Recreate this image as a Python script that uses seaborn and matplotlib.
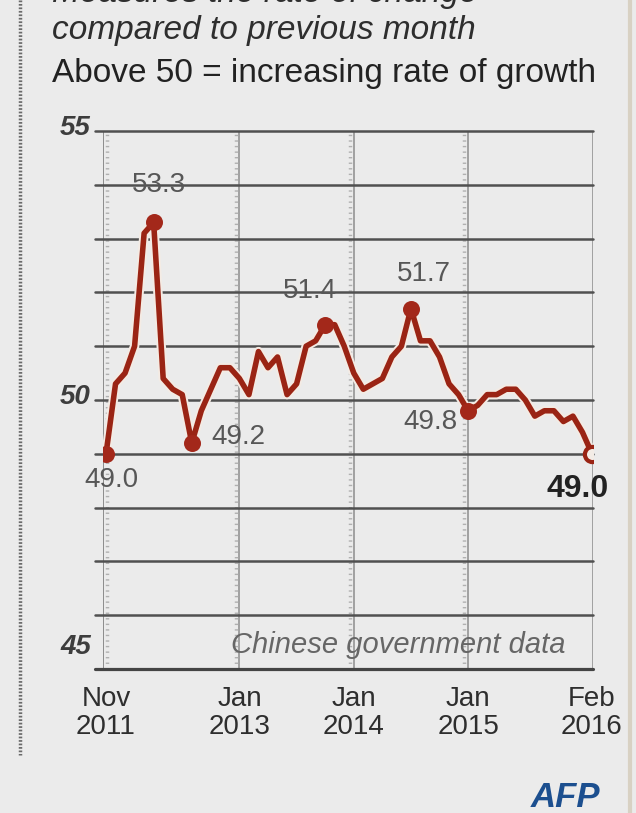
import numpy as np
import pandas as pd
import matplotlib
matplotlib.use("Agg")
import matplotlib.pyplot as plt
import matplotlib.patheffects as pe
from matplotlib.lines import Line2D
import seaborn as sns

# China official manufacturing PMI, Nov 2011 - Feb 2016
months = ["2011-11", "2011-12",
          "2012-01", "2012-02", "2012-03", "2012-04", "2012-05", "2012-06",
          "2012-07", "2012-08", "2012-09", "2012-10", "2012-11", "2012-12",
          "2013-01", "2013-02", "2013-03", "2013-04", "2013-05", "2013-06",
          "2013-07", "2013-08", "2013-09", "2013-10", "2013-11", "2013-12",
          "2014-01", "2014-02", "2014-03", "2014-04", "2014-05", "2014-06",
          "2014-07", "2014-08", "2014-09", "2014-10", "2014-11", "2014-12",
          "2015-01", "2015-02", "2015-03", "2015-04", "2015-05", "2015-06",
          "2015-07", "2015-08", "2015-09", "2015-10", "2015-11", "2015-12",
          "2016-01", "2016-02"]
pmi = [49.0, 50.3,
       50.5, 51.0, 53.1, 53.3, 50.4, 50.2, 50.1, 49.2, 49.8, 50.2, 50.6, 50.6,
       50.4, 50.1, 50.9, 50.6, 50.8, 50.1, 50.3, 51.0, 51.1, 51.4, 51.4, 51.0,
       50.5, 50.2, 50.3, 50.4, 50.8, 51.0, 51.7, 51.1, 51.1, 50.8, 50.3, 50.1,
       49.8, 49.9, 50.1, 50.1, 50.2, 50.2, 50.0, 49.7, 49.8, 49.8, 49.6, 49.7,
       49.4, 49.0]

label_months = ["2011-11", "2012-04", "2012-08", "2013-10", "2014-07", "2015-01"]
last_month = "2016-02"
tick_months = ["2011-11", "2013-01", "2014-01", "2015-01", "2016-02"]
tick_labels = ["Nov\n2011", "Jan\n2013", "Jan\n2014", "Jan\n2015", "Feb\n2016"]
grid_months = ["2013-01", "2014-01", "2015-01"]
y_labels = [45, 50, 55]

df = pd.DataFrame({"month": months, "pmi": pmi})
df["x"] = np.arange(len(df))
pos = dict(zip(df["month"], df["x"]))

sns.set_theme(style="white")
plt.rcParams["font.family"] = ["Liberation Sans", "DejaVu Sans"]

bg = "#ebebeb"
red = "#9a2414"
W, H = 636, 813
fig = plt.figure(figsize=(W / 100, H / 100), dpi=100, facecolor=bg)
ax = fig.add_axes([103 / W, 1 - 669 / H, 490 / W, 538 / H], facecolor=bg)

px = 486 / 51
xl, xr = -3 / px, 51 + 1 / px
ax.set_xlim(xl, xr)
ax.set_ylim(45, 55)
for s in ax.spines.values():
    s.set_visible(False)

# grid
for v in range(46, 56):
    ax.axhline(v, xmin=-8 / 490, xmax=1, color="#505050", lw=1.8,
               clip_on=False, zorder=1)
ax.axhline(45, xmin=-8 / 490, xmax=1, color="#444444", lw=2.3,
           clip_on=False, zorder=1)
for m in grid_months:
    ax.axvline(pos[m], color="#8c8c8c", lw=1.1, zorder=0.5)
    ax.axvline(pos[m] - 0.4, color="#b0b0b0", lw=2.5, ls=(0, (0.4, 1.2)), zorder=0.5)
ax.axvline(xl, color="#8c8c8c", lw=1.4, zorder=0.5)
ax.axvline(xl + 0.4, color="#b0b0b0", lw=2.5, ls=(0, (0.4, 1.2)), zorder=0.5)
ax.axvline(xr, color="#8c8c8c", lw=1.1, zorder=0.5)

# ticks
ax.set_yticks([])
ax.set_xticks([pos[m] for m in tick_months], tick_labels)
ax.tick_params(axis="x", length=0, pad=12, labelsize=20, labelcolor="#2e2e2e")
for t in ax.get_xticklabels():
    t.set_linespacing(1.12)
for v in y_labels:
    yy = v + 0.4 if v == 45 else v + 0.05
    ax.text(-0.025, yy, str(v), transform=ax.get_yaxis_transform(),
            ha="right", va="center", fontsize=20, fontweight="bold",
            fontstyle="italic", color="#3d3d3d")

# line
sns.lineplot(data=df, x="x", y="pmi", ax=ax, color=red, lw=4, zorder=5)
ax.lines[-1].set_path_effects([pe.Stroke(linewidth=6.8, foreground="#f4ebe4"),
                               pe.Normal()])
ax.set_xlabel("")
ax.set_ylabel("")

sub = df[df["month"].isin(label_months)]
ax.scatter(sub["x"], sub["pmi"], s=150, color="#a3281a", zorder=6, linewidths=0)
last = df[df["month"] == last_month]
ax.scatter(last["x"], last["pmi"], s=120, facecolor="#f3ece6", edgecolor=red,
           linewidths=3, zorder=6)

offsets = {"2011-11": (4, -19, "center"), "2012-04": (4, 27, "center"),
           "2012-08": (14, 4, "left"), "2013-10": (-11, 24, "center"),
           "2014-07": (9, 25, "center"), "2015-01": (-8, -8, "right")}
for _, r in sub.iterrows():
    dx, dy, ha = offsets[r["month"]]
    ax.annotate(f"{r['pmi']:.1f}", (r["x"], r["pmi"]), xytext=(dx, dy),
                textcoords="offset points", ha=ha, va="center",
                fontsize=20, color="#575757", zorder=7)
ax.annotate(f"{last['pmi'].iloc[0]:.1f}", (last["x"].iloc[0], last["pmi"].iloc[0]),
            xytext=(-10, -25), textcoords="offset points", ha="center",
            va="center", fontsize=23, fontweight="bold", color="#222222", zorder=7)

ax.text((398 - 106) / px, 45.45, "Chinese government data", ha="center",
        va="center", fontsize=21, fontstyle="italic", color="#666666")

# header
fig.text(52 / W, 1 - 2 / H, "Measures the rate of change", fontsize=24,
         fontstyle="italic", color="#2e2e2e", va="baseline")
fig.text(52 / W, 1 - 39 / H, "compared to previous month", fontsize=24,
         fontstyle="italic", color="#2e2e2e", va="baseline")
fig.text(52 / W, 1 - 82 / H, "Above 50 = increasing rate of growth",
         fontsize=24, color="#222222", va="baseline")

# frame decorations
fig.add_artist(Line2D([20 / W, 20 / W], [1, 1 - 755 / H], transform=fig.transFigure,
                      color="#6a6a6a", lw=2.5, ls=(0, (0.5, 0.5))))
fig.add_artist(Line2D([630 / W, 630 / W], [0, 1], transform=fig.transFigure,
                      color="#d8d1c3", lw=3))
fig.text(565 / W, 1 - 797 / H, "AFP", ha="center", va="center", fontsize=25,
         fontweight="bold", fontstyle="italic", color="#1c4f8f")

fig.savefig("out.png", dpi=100, facecolor=bg)
